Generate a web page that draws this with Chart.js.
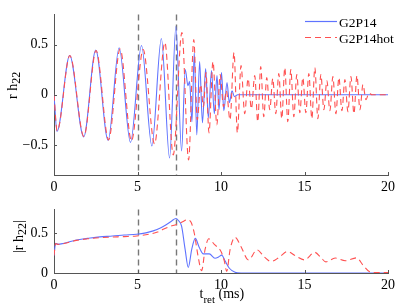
<!DOCTYPE html>
<html>
<head>
<meta charset="utf-8">
<script src="https://cdn.jsdelivr.net/npm/chart.js@4"></script>
<style>
  html, body { margin: 0; padding: 0; background: #fff; }
  #wrap { position: relative; width: 399px; height: 308px; overflow: hidden; }
  canvas { position: absolute; left: 0; }
  #top { top: 0; }
  #bottom { top: 195px; }
</style>
</head>
<body>
<div id="wrap">
  <canvas id="top" width="399" height="195"></canvas>
  <canvas id="bottom" width="399" height="113"></canvas>
</div>
<script>
const seriesNames = ['G2P14', 'G2P14hot'];
const xTicks = [0, 5, 10, 15, 20];
const xTickLabels = ['0', '5', '10', '15', '20'];
const yTicksTop = [-0.5, 0, 0.5];
const yTickLabelsTop = ['\u22120.5', '0', '0.5'];
const yTicksBottom = [0, 0.5];
const yTickLabelsBottom = ['0', '0.5'];
const markerTimes = [5.03, 7.32];

// r h22, G2P14 (extrema)
const tBlue = [0, 0.18, 0.94, 1.78, 2.5, 3.24, 3.9, 4.58, 5.24, 5.86, 6.43, 6.92, 7.3, 7.64, 7.86, 8.02, 8.12, 8.26,
  8.4, 8.55, 8.72, 8.89, 9.08, 9.24, 9.43, 9.6, 9.76, 9.88, 10.03, 10.17, 10.36, 10.5, 10.66, 10.8, 11.0, 20];
const hBlue = [0, -0.365, 0.39, -0.42, 0.445, -0.455, 0.467, -0.476, 0.49, -0.51, 0.56, -0.63, 0.68, -0.56, 0.25, 0.09, 0.13, -0.27,
  0.42, -0.4, 0.33, -0.28, 0.26, -0.23, 0.24, -0.19, 0.19, -0.15, 0.22, -0.16, 0.12, -0.08, 0.04, -0.02, 0, 0];

// r h22, G2P14hot
const tRed = [0, 0.19, 0.95, 1.79, 2.52, 3.27, 3.96, 4.64, 5.34, 6.02, 6.64, 7.14, 7.66, 8.06, 8.37, 8.58, 8.78, 8.95,
  9.1, 9.28, 9.52, 9.75, 9.95, 10.15, 10.32, 10.54, 10.78, 10.98, 11.2, 11.42, 11.62, 11.82, 12.02, 12.2, 12.38, 12.56,
  12.74, 12.92, 13.1, 13.28, 13.46, 13.64, 13.82, 14.0, 14.18, 14.36, 14.54, 14.72, 14.9, 15.08, 15.26, 15.44, 15.62,
  15.8, 15.98, 16.16, 16.34, 16.52, 16.7, 16.88, 17.06, 17.24, 17.42, 17.6, 17.78, 17.96, 18.14, 18.32, 18.5, 18.68,
  18.86, 19.05, 20];
const hRed = [0, -0.36, 0.39, -0.415, 0.44, -0.45, 0.455, -0.46, 0.45, -0.49, 0.52, -0.6, 0.62, -0.65, 0.55, -0.25, 0.1, -0.12,
  0.22, -0.38, 0.33, -0.3, 0.2, -0.12, 0.04, -0.25, 0.42, -0.38, 0.29, -0.19, 0.16, -0.14, 0.19, -0.27, 0.28, -0.22,
  0.17, -0.15, 0.16, -0.19, 0.21, -0.24, 0.27, -0.27, 0.25, -0.22, 0.2, -0.18, 0.17, -0.18, 0.21, -0.24, 0.27,
  -0.24, 0.2, -0.15, 0.14, -0.16, 0.18, -0.19, 0.17, -0.16, 0.15, -0.17, 0.18, -0.19, 0.19, -0.15, 0.1, -0.05,
  0.015, 0, 0];

// |r h22|
const tAmpBlue = [0, 0.1, 0.24, 0.6, 1.34, 2.0, 2.74, 3.5, 4.2, 4.94, 5.5, 5.94, 6.4, 6.74, 7.05, 7.3, 7.45, 7.64, 7.85,
  8.04, 8.25, 8.46, 8.7, 8.94, 9.3, 9.64, 9.85, 10.04, 10.25, 10.5, 10.84, 11.2, 20];
const ampBlue = [0.22, 0.375, 0.36, 0.375, 0.415, 0.435, 0.455, 0.465, 0.478, 0.488, 0.505, 0.53, 0.57, 0.61, 0.655, 0.685, 0.66, 0.59, 0.3,
  0.07, 0.3, 0.435, 0.32, 0.24, 0.24, 0.185, 0.2, 0.225, 0.15, 0.06, 0.01, 0, 0];
const tAmpRed = [0, 0.1, 0.24, 0.6, 1.34, 2.0, 2.74, 3.5, 4.2, 4.94, 5.74, 6.2, 6.54, 6.94, 7.34, 7.7, 7.98, 8.2, 8.4, 8.62,
  8.84, 9.05, 9.27, 9.6, 10.0, 10.2, 10.34, 10.55, 10.84, 11.2, 11.64, 12.16, 12.6, 13.0, 13.5, 13.98, 14.5, 15.0,
  15.62, 16.0, 16.28, 16.84, 17.44, 18.12, 18.5, 18.9, 19.2, 20];
const ampRed = [0.22, 0.37, 0.36, 0.37, 0.41, 0.43, 0.445, 0.452, 0.458, 0.466, 0.49, 0.515, 0.55, 0.585, 0.61, 0.645, 0.67, 0.64, 0.5, 0.22,
  0.03, 0.3, 0.43, 0.36, 0.27, 0.15, 0.02, 0.3, 0.45, 0.33, 0.165, 0.29, 0.2, 0.145, 0.2, 0.27, 0.21, 0.165,
  0.26, 0.19, 0.14, 0.188, 0.155, 0.19, 0.1, 0.015, 0.005, 0.005];

const FONT = "'Liberation Serif', 'Times New Roman', serif";
const BLUE = 'rgb(95,115,255)';
const RED = 'rgb(255,80,80)';
const AXIS = '#555';
const DASH = [6, 4];

Chart.defaults.font.family = FONT;

function pts(xs, ys) {
    return xs.map((x, i) => ({ x: x, y: ys[i] }));
}

// text with subscripts, optionally rotated
function drawParts(ctx, parts, x, y, rotate) {
    ctx.save();
    ctx.translate(x, y);
    if (rotate) ctx.rotate(-Math.PI / 2);
    ctx.fillStyle = '#000';
    ctx.textAlign = 'left';
    ctx.textBaseline = 'alphabetic';
    let cx = 0;
    for (const [txt, size, dy] of parts) {
        ctx.font = size + 'px ' + FONT;
        ctx.fillText(txt, cx, dy);
        cx += ctx.measureText(txt).width;
    }
    ctx.restore();
}

const decorations = {
    id: 'decorations',

    beforeDatasetsDraw(chart) {
        const { ctx, chartArea: { top, bottom }, scales: { x } } = chart;
        ctx.save();
        ctx.strokeStyle = 'rgb(120,120,120)';
        ctx.lineWidth = 1.4;
        ctx.setLineDash([6, 4]);
        markerTimes.forEach(t => {
            const px = Math.round(x.getPixelForValue(t)) + 0.5;
            ctx.beginPath();
            ctx.moveTo(px, top);
            ctx.lineTo(px, bottom);
            ctx.stroke();
        });
        ctx.restore();
    },

    afterDraw(chart, args, opts) {
        const { ctx, chartArea: { left, bottom }, scales: { x, y } } = chart;
        ctx.save();
        ctx.strokeStyle = AXIS;
        ctx.lineWidth = 1;
        xTicks.forEach(v => {
            const px = Math.round(x.getPixelForValue(v)) + 0.5;
            ctx.beginPath();
            ctx.moveTo(px, bottom);
            ctx.lineTo(px, bottom - 3);
            ctx.stroke();
        });
        opts.yTicks.forEach(v => {
            const py = Math.round(y.getPixelForValue(v)) + 0.5;
            ctx.beginPath();
            ctx.moveTo(left, py);
            ctx.lineTo(left + 3, py);
            ctx.stroke();
        });
        ctx.restore();

        if (opts.yTitle) drawParts(ctx, opts.yTitle.parts, opts.yTitle.x, opts.yTitle.y, true);
        if (opts.xTitle) drawParts(ctx, opts.xTitle.parts, opts.xTitle.x, opts.xTitle.y, false);

        if (opts.legend) {
            const rows = [[BLUE, []], [RED, DASH]];
            rows.forEach(([color, dash], i) => {
                const ly = 21.5 + i * 16;
                ctx.save();
                ctx.strokeStyle = color;
                ctx.lineWidth = 1.2;
                ctx.setLineDash(dash);
                ctx.beginPath();
                ctx.moveTo(305, ly);
                ctx.lineTo(337, ly);
                ctx.stroke();
                ctx.restore();
                drawParts(ctx, [[seriesNames[i], 13.5, 0]], 339, ly + 5, false);
            });
        }
    }
};

function makeOptions(yMin, yMax, yTicks, yLabels, xHeight, extras) {
    return {
        responsive: false,
        animation: false,
        layout: { padding: { top: 8, right: 11, left: 0, bottom: 0 } },
        elements: {
            point: { radius: 0 },
            line: { borderWidth: 1.1, cubicInterpolationMode: 'monotone' }
        },
        plugins: {
            legend: { display: false },
            tooltip: { enabled: false },
            decorations: Object.assign({ yTicks: yTicks }, extras)
        },
        scales: {
            x: {
                type: 'linear',
                min: 0,
                max: 20,
                grid: { display: false, drawTicks: false },
                border: { display: true, color: AXIS, width: 1 },
                afterBuildTicks: s => { s.ticks = xTicks.map(v => ({ value: v })); },
                afterFit: s => { s.height = xHeight; },
                ticks: {
                    padding: 4,
                    color: '#000',
                    maxRotation: 0,
                    autoSkip: false,
                    font: { family: FONT, size: 14 },
                    callback: v => xTickLabels[xTicks.indexOf(v)]
                }
            },
            y: {
                min: yMin,
                max: yMax,
                grid: { display: false, drawTicks: false },
                border: { display: true, color: AXIS, width: 1 },
                afterBuildTicks: s => { s.ticks = yTicks.map(v => ({ value: v })); },
                afterFit: s => { s.width = 54; },
                ticks: {
                    padding: 6,
                    color: '#000',
                    autoSkip: false,
                    font: { family: FONT, size: 14 },
                    callback: v => yLabels[yTicks.indexOf(v)]
                }
            }
        }
    };
}

new Chart(document.getElementById('top'), {
    type: 'line',
    plugins: [decorations],
    data: {
        datasets: [
            { label: seriesNames[1], data: pts(tRed, hRed), borderColor: RED, borderDash: DASH, order: 0 },
            { label: seriesNames[0], data: pts(tBlue, hBlue), borderColor: BLUE, order: 1 }
        ]
    },
    options: makeOptions(-0.8, 0.8, yTicksTop, yTickLabelsTop, 20, {
        legend: true,
        yTitle: { x: 17, y: 99, parts: [['r h', 14, 0], ['22', 12, 3]] }
    })
});

new Chart(document.getElementById('bottom'), {
    type: 'line',
    plugins: [decorations],
    data: {
        datasets: [
            { label: seriesNames[1], data: pts(tAmpRed, ampRed), borderColor: RED, borderDash: DASH, order: 0 },
            { label: seriesNames[0], data: pts(tAmpBlue, ampBlue), borderColor: BLUE, order: 1 }
        ]
    },
    options: makeOptions(0, 0.8, yTicksBottom, yTickLabelsBottom, 35, {
        yTitle: { x: 23, y: 58, parts: [['|r h', 14, 0], ['22', 12, 3], ['|', 14, 0]] },
        xTitle: { x: 199.5, y: 102.5, parts: [['t', 14, 0], ['ret', 11, 5], [' (ms)', 14, 0]] }
    })
});
</script>
</body>
</html>
